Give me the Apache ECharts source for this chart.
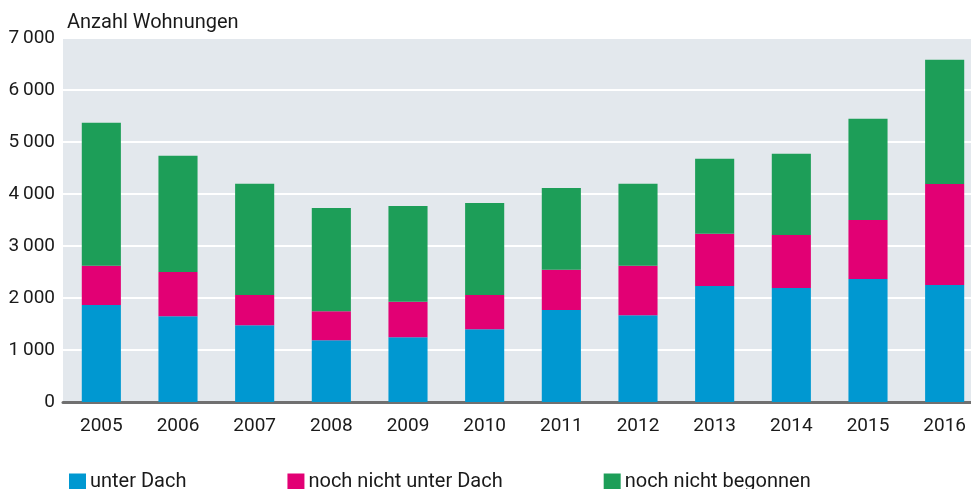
<!DOCTYPE html>
<html>
<head>
<meta charset="utf-8">
<script src="https://cdn.jsdelivr.net/npm/echarts@6/dist/echarts.min.js"></script>
<style>
  html, body { margin: 0; padding: 0; background: #fff; }
  #chart { width: 971px; height: 489px; }
</style>
</head>
<body>
<div id="chart"></div>
<script>
// Daten
const jahre = ["2005", "2006", "2007", "2008", "2009", "2010", "2011", "2012", "2013", "2014", "2015", "2016"];
const unterDach = [1863, 1651, 1478, 1189, 1247, 1400, 1767, 1670, 2229, 2191, 2364, 2248];
const nochNichtUnterDach = [757, 848, 578, 558, 680, 656, 776, 950, 1008, 1021, 1137, 1943];
const nochNichtBegonnen = [2750, 2235, 2139, 1985, 1843, 1772, 1574, 1575, 1439, 1560, 1946, 2393];

const schrift = "Roboto, 'Noto Sans', sans-serif";
const textFarbe = "#1a1a1a";

const chart = echarts.init(document.getElementById("chart"));

function serie(name, data, color) {
    return {
        name: name,
        type: "bar",
        stack: "gesamt",
        data: data,
        barWidth: "51%",
        itemStyle: { color: color },
        emphasis: { disabled: true }
    };
}

chart.setOption({
    animation: false,
    textStyle: { fontFamily: schrift },
    title: {
        text: "Anzahl Wohnungen",
        left: 62,
        top: 8,
        textStyle: { fontFamily: schrift, fontSize: 20, fontWeight: "normal", color: textFarbe }
    },
    grid: {
        left: 63,
        right: -12,
        top: 38,
        bottom: 87,
        outerBoundsMode: "none",
        containLabel: false,
        show: true,
        backgroundColor: "#e3e8ed",
        borderWidth: 0
    },
    legend: {
        left: 64,
        bottom: -8,
        itemWidth: 17,
        itemHeight: 17,
        itemGap: 101,
        icon: "rect",
        selectedMode: false,
        textStyle: { fontFamily: schrift, fontSize: 20, color: textFarbe, padding: [0, 0, 0, -1] },
        data: ["unter Dach", "noch nicht unter Dach", "noch nicht begonnen"]
    },
    xAxis: {
        type: "category",
        data: jahre,
        axisLine: { show: true, lineStyle: { color: "#707070", width: 3 } },
        axisTick: { show: false },
        axisLabel: { fontFamily: schrift, fontSize: 19, color: textFarbe, margin: 15 }
    },
    yAxis: {
        type: "value",
        min: 0,
        max: 7000,
        interval: 1000,
        axisLine: { show: false },
        axisTick: { show: false },
        splitLine: { show: true, lineStyle: { color: "#ffffff", width: 2 } },
        axisLabel: {
            fontFamily: schrift,
            fontSize: 19,
            color: textFarbe,
            margin: 8,
            formatter: function (v) {
                return v >= 1000 ? Math.floor(v / 1000) + "\u2009" + String(v % 1000).padStart(3, "0") : String(v);
            }
        }
    },
    series: [
        serie("unter Dach", unterDach, "#0098d1"),
        serie("noch nicht unter Dach", nochNichtUnterDach, "#e20074"),
        serie("noch nicht begonnen", nochNichtBegonnen, "#1d9e58")
    ]
});
</script>
</body>
</html>
